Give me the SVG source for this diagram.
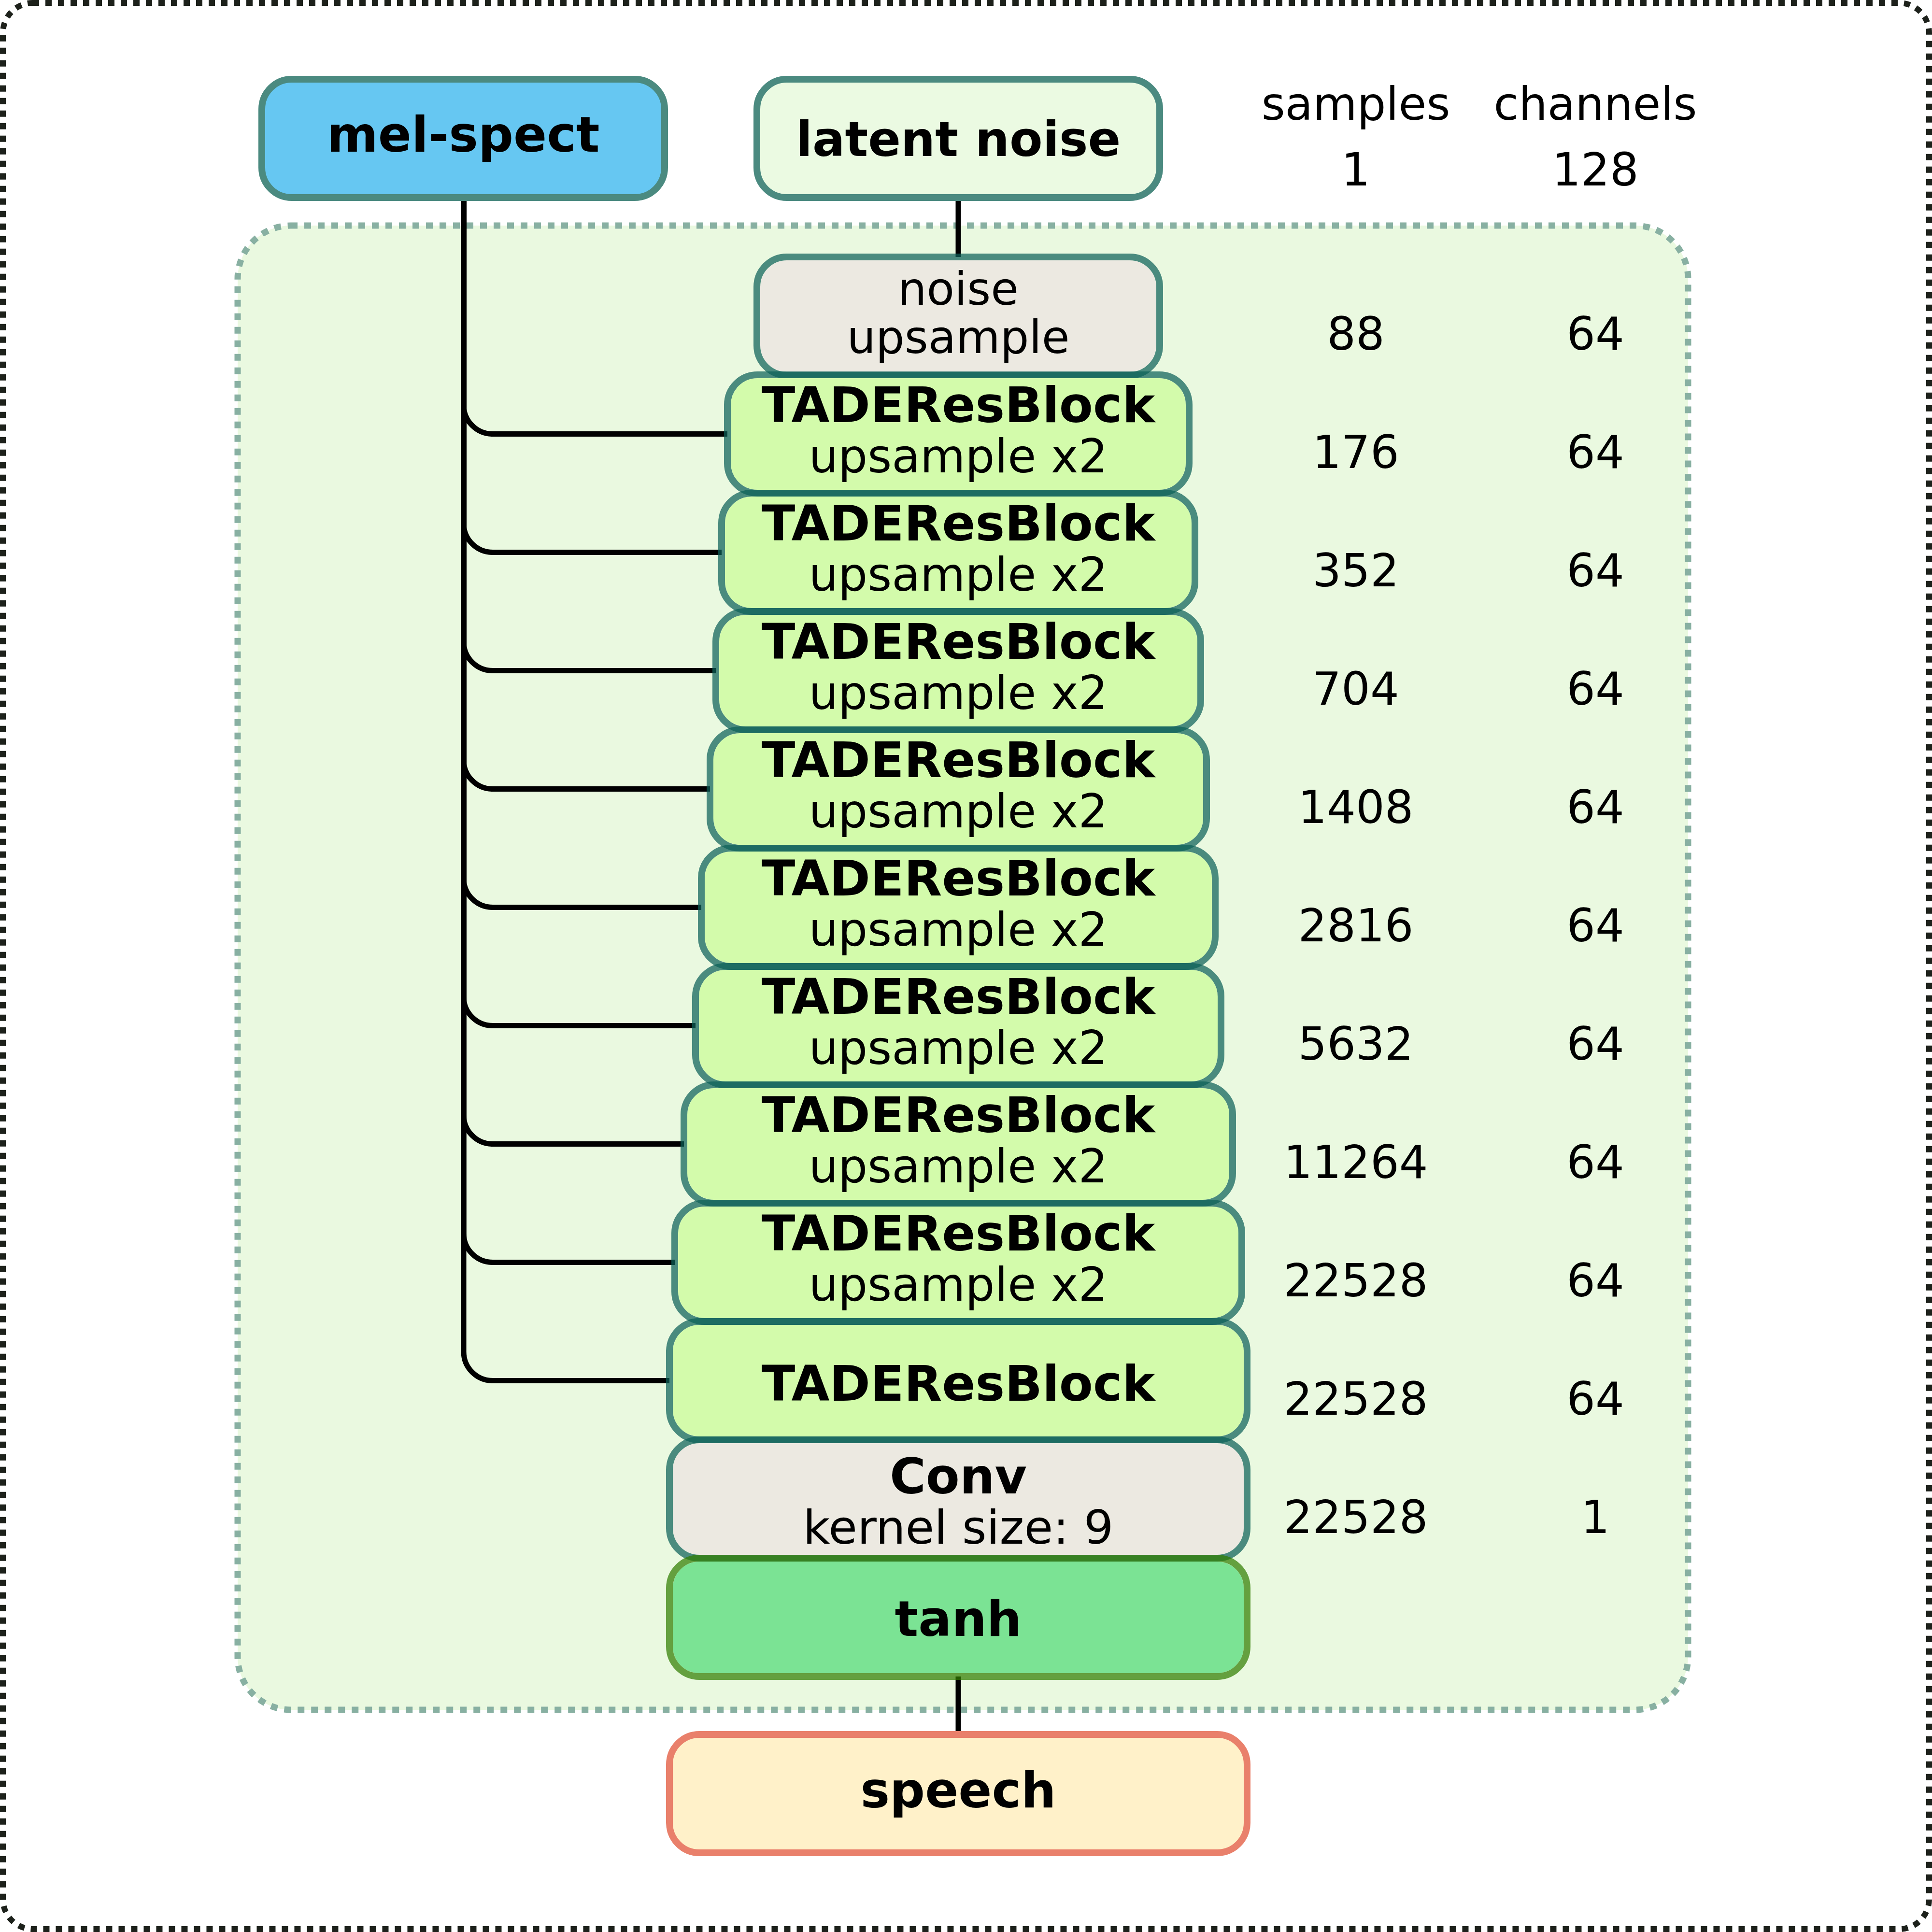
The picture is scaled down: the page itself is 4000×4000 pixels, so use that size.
<svg xmlns="http://www.w3.org/2000/svg" width="4000" height="4000" viewBox="0 0 4000 4000">
<style>
text{font-family:"DejaVu Sans","Verdana",sans-serif;fill:#000;text-anchor:middle}
.b{font-weight:bold;font-size:102px}
.r{font-size:94px}
.u{font-size:96px}
.conn{fill:none;stroke:#000;stroke-width:11}
.edge{fill:none;stroke:#0c5f58;stroke-opacity:0.72;stroke-width:14}
.tade{fill:#d3fbab}
.gray{fill:#ece9e1}
</style>
<rect x="0" y="0" width="4000" height="4000" fill="#fff"/>
<rect x="6" y="6" width="3988" height="3988" rx="62" fill="#fff" stroke="#1d211b" stroke-width="12" stroke-dasharray="13 13"/>
<rect id="container" x="492" y="467" width="3003" height="3073" rx="110" fill="#eaf9e0" stroke="#88b0a2" stroke-width="13" stroke-dasharray="14 14"/>

<g id="connectors">
<path class="conn" d="M960,409 V838.5 A60,60 0 0 0 1020,898.5 H1506"/>
<path class="conn" d="M960,409 V1083.5 A60,60 0 0 0 1020,1143.5 H1494"/>
<path class="conn" d="M960,409 V1328.5 A60,60 0 0 0 1020,1388.5 H1482"/>
<path class="conn" d="M960,409 V1573.5 A60,60 0 0 0 1020,1633.5 H1470"/>
<path class="conn" d="M960,409 V1818.5 A60,60 0 0 0 1020,1878.5 H1452"/>
<path class="conn" d="M960,409 V2063.5 A60,60 0 0 0 1020,2123.5 H1440"/>
<path class="conn" d="M960,409 V2308.5 A60,60 0 0 0 1020,2368.5 H1416"/>
<path class="conn" d="M960,409 V2553.5 A60,60 0 0 0 1020,2613.5 H1397"/>
<path class="conn" d="M960,409 V2798.5 A60,60 0 0 0 1020,2858.5 H1386"/>
<path class="conn" d="M1984,409 V532"/>
<path class="conn" d="M1984,3471 V3591"/>
</g>

<g id="mel-spect">
<rect x="542" y="164" width="834" height="245" rx="62" fill="#66c7f2" stroke="#4b8a80" stroke-width="14"/>
<text class="b" x="959" y="314">mel-spect</text>
</g>
<g id="latent-noise">
<rect x="1567" y="164" width="834" height="245" rx="62" fill="#ebfae2" stroke="#4b8a80" stroke-width="14"/>
<text x="1984" y="323" style="font-weight:bold;font-size:100px">latent noise</text>
</g>

<g id="noise-upsample">
<rect class="gray" x="1574" y="539" width="820" height="231" rx="55"/>
<rect class="edge" x="1567" y="532" width="834" height="245" rx="62"/>
<text class="r" x="1984" y="631">noise</text>
<text class="r" x="1984" y="731">upsample</text>
</g>

<g id="tade1">
<rect class="tade" x="1513" y="783" width="942" height="231" rx="55"/>
<rect class="edge" x="1506" y="776" width="956" height="245" rx="62"/>
<text class="b" x="1984" y="874">TADEResBlock</text>
<text class="u" x="1984" y="978">upsample x2</text>
</g>
<g id="tade2">
<rect class="tade" x="1501" y="1028" width="966" height="231" rx="55"/>
<rect class="edge" x="1494" y="1021" width="980" height="245" rx="62"/>
<text class="b" x="1984" y="1119">TADEResBlock</text>
<text class="u" x="1984" y="1223">upsample x2</text>
</g>
<g id="tade3">
<rect class="tade" x="1489" y="1273" width="990" height="231" rx="55"/>
<rect class="edge" x="1482" y="1266" width="1004" height="245" rx="62"/>
<text class="b" x="1984" y="1364">TADEResBlock</text>
<text class="u" x="1984" y="1468">upsample x2</text>
</g>
<g id="tade4">
<rect class="tade" x="1477" y="1518" width="1014" height="231" rx="55"/>
<rect class="edge" x="1470" y="1511" width="1028" height="245" rx="62"/>
<text class="b" x="1984" y="1609">TADEResBlock</text>
<text class="u" x="1984" y="1713">upsample x2</text>
</g>
<g id="tade5">
<rect class="tade" x="1459" y="1763" width="1050" height="231" rx="55"/>
<rect class="edge" x="1452" y="1756" width="1064" height="245" rx="62"/>
<text class="b" x="1984" y="1854">TADEResBlock</text>
<text class="u" x="1984" y="1958">upsample x2</text>
</g>
<g id="tade6">
<rect class="tade" x="1447" y="2008" width="1074" height="231" rx="55"/>
<rect class="edge" x="1440" y="2001" width="1088" height="245" rx="62"/>
<text class="b" x="1984" y="2099">TADEResBlock</text>
<text class="u" x="1984" y="2203">upsample x2</text>
</g>
<g id="tade7">
<rect class="tade" x="1423" y="2253" width="1122" height="231" rx="55"/>
<rect class="edge" x="1416" y="2246" width="1136" height="245" rx="62"/>
<text class="b" x="1984" y="2344">TADEResBlock</text>
<text class="u" x="1984" y="2448">upsample x2</text>
</g>
<g id="tade8">
<rect class="tade" x="1404" y="2498" width="1160" height="231" rx="55"/>
<rect class="edge" x="1397" y="2491" width="1174" height="245" rx="62"/>
<text class="b" x="1984" y="2589">TADEResBlock</text>
<text class="u" x="1984" y="2693">upsample x2</text>
</g>
<g id="tade9">
<rect class="tade" x="1393" y="2743" width="1182" height="231" rx="55"/>
<rect class="edge" x="1386" y="2736" width="1196" height="245" rx="62"/>
<text class="b" x="1984" y="2900">TADEResBlock</text>
</g>
<g id="conv">
<rect class="gray" x="1393" y="2988" width="1182" height="231" rx="55"/>
<rect class="edge" x="1386" y="2981" width="1196" height="245" rx="62"/>
<text class="b" x="1984" y="3092">Conv</text>
<text x="1984" y="3196" style="font-size:97px">kernel size: 9</text>
</g>
<g id="tanh">
<rect x="1393" y="3233" width="1182" height="231" rx="55" fill="#7be394"/>
<rect x="1386" y="3226" width="1196" height="245" rx="62" fill="none" stroke="#317d00" stroke-opacity="0.72" stroke-width="14"/>
<text class="b" x="1984" y="3387">tanh</text>
</g>
<g id="speech">
<rect x="1386" y="3591" width="1196" height="245" rx="62" fill="#fff1c9" stroke="#e9806b" stroke-width="14"/>
<text class="b" x="1984" y="3742">speech</text>
</g>

<g id="table">
<text class="r" x="2807" y="248">samples</text>
<text class="r" x="3303" y="248">channels</text>
<text class="r" x="2807" y="384">1</text>
<text class="r" x="3303" y="384">128</text>
<text class="r" x="2807" y="724">88</text><text class="r" x="3303" y="724">64</text>
<text class="r" x="2807" y="969">176</text><text class="r" x="3303" y="969">64</text>
<text class="r" x="2807" y="1214">352</text><text class="r" x="3303" y="1214">64</text>
<text class="r" x="2807" y="1459">704</text><text class="r" x="3303" y="1459">64</text>
<text class="r" x="2807" y="1704">1408</text><text class="r" x="3303" y="1704">64</text>
<text class="r" x="2807" y="1949">2816</text><text class="r" x="3303" y="1949">64</text>
<text class="r" x="2807" y="2194">5632</text><text class="r" x="3303" y="2194">64</text>
<text class="r" x="2807" y="2439">11264</text><text class="r" x="3303" y="2439">64</text>
<text class="r" x="2807" y="2684">22528</text><text class="r" x="3303" y="2684">64</text>
<text class="r" x="2807" y="2929">22528</text><text class="r" x="3303" y="2929">64</text>
<text class="r" x="2807" y="3174">22528</text><text class="r" x="3303" y="3174">1</text>
</g>
</svg>
